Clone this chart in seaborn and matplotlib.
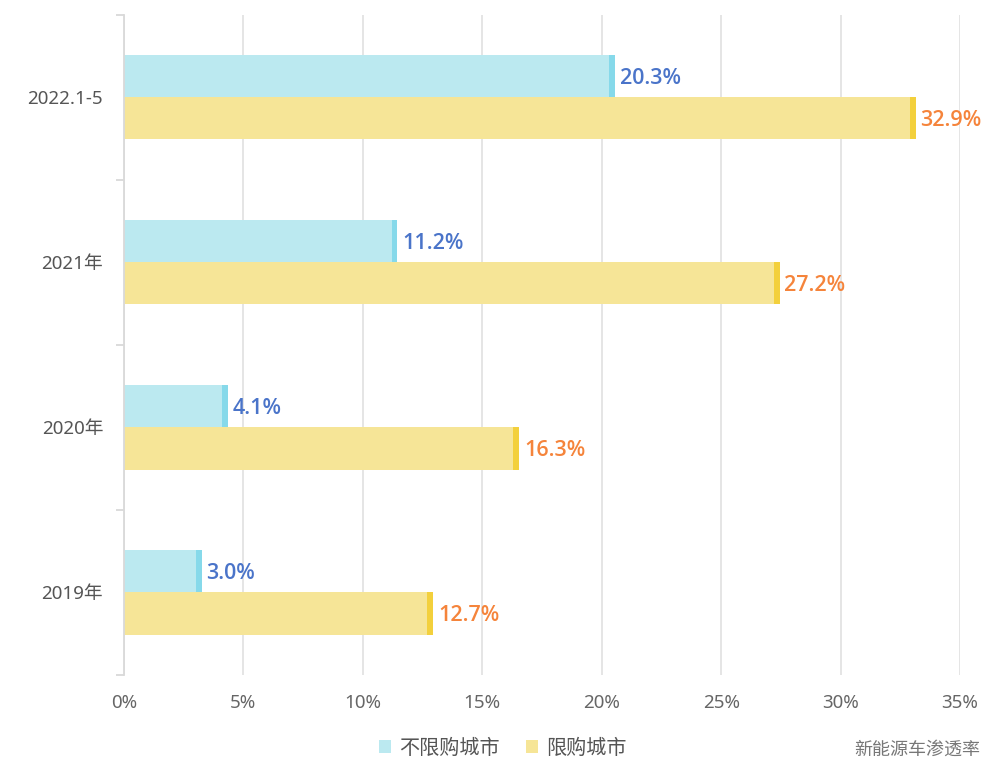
import pandas as pd
import seaborn as sns
import matplotlib.pyplot as plt
from matplotlib.patches import Patch

# 数据
periods = ['2022.1-5', '2021年', '2020年', '2019年']
unrestricted = [20.3, 11.2, 4.1, 3.0]   # 不限购城市
restricted = [32.9, 27.2, 16.3, 12.7]   # 限购城市
series_names = ['不限购城市', '限购城市']
x_ticks = [0, 5, 10, 15, 20, 25, 30, 35]

bar_colors = ['#bbe9f0', '#f6e597']
cap_colors = ['#86d9ea', '#f3d03c']
label_colors = ['#4a74c9', '#f5843b']

df = pd.DataFrame({
    '时期': periods * 2,
    '渗透率': unrestricted + restricted,
    '类型': [series_names[0]] * len(periods) + [series_names[1]] * len(periods),
})

sns.set_style('white')
plt.rcParams['font.family'] = ['Noto Sans', 'Noto Sans CJK SC', 'DejaVu Sans']

fig = plt.figure(figsize=(10, 7.75), dpi=100)
ax = fig.add_axes([0.124, 0.129, 0.836, 0.852])

sns.barplot(data=df, y='时期', x='渗透率', hue='类型', order=periods,
            hue_order=series_names, palette=bar_colors, orient='h',
            width=0.51, saturation=1, legend=False, ax=ax, linewidth=0)

# 条形末端的深色小块 + 数值标签
cap_w = 0.25
bar_groups = list(ax.containers)
for i, cont in enumerate(bar_groups):
    for p in list(cont):
        y = p.get_y()
        h = p.get_height()
        w = p.get_width()
        ax.barh(y + h / 2, cap_w, left=w, height=h, color=cap_colors[i], linewidth=0)
        ax.text(w + cap_w + 0.2, y + h / 2 + 0.012, f'{w:.1f}%', va='center', ha='left',
                color=label_colors[i], fontsize=15.5, fontweight='semibold',
                family=['Open Sans', 'DejaVu Sans'])

ax.set_xlim(0, 35)
ax.set_ylim(len(periods) - 0.5, -0.5)
ax.set_xticks(x_ticks)
ax.set_xticklabels([f'{t}%' for t in x_ticks])
ax.set_xlabel('')
ax.set_ylabel('')

# 网格与坐标轴
ax.grid(True, axis='x', color='#e3e3e3', linewidth=1.3)
ax.set_axisbelow(True)
for s in ['top', 'right', 'bottom']:
    ax.spines[s].set_visible(False)
ax.spines['left'].set_color('#d9d9d9')
ax.spines['left'].set_linewidth(1.3)

ax.tick_params(axis='x', length=0, pad=14, labelsize=13.5, labelcolor='#666666')
ax.tick_params(axis='y', length=0, pad=15, labelsize=13.5, labelcolor='#555555')
ax.set_yticks([-0.5, 0.5, 1.5, 2.5, 3.5], minor=True)
ax.tick_params(axis='y', which='minor', length=6, width=1.3, color='#d9d9d9', left=True)

# 图例
handles = [Patch(facecolor=c, edgecolor='none') for c in bar_colors]
fig.legend(handles, series_names, loc='center', bbox_to_anchor=(0.503, 0.034), ncol=2,
           frameon=False, fontsize=14.5, labelcolor='#555555', handlelength=0.6,
           handleheight=0.6, handletextpad=0.4, columnspacing=1.3)

fig.text(0.98, 0.032, '新能源车渗透率', ha='right', va='center', fontsize=13,
         color='#777777', style='italic')

fig.savefig('out.png', dpi=100)
